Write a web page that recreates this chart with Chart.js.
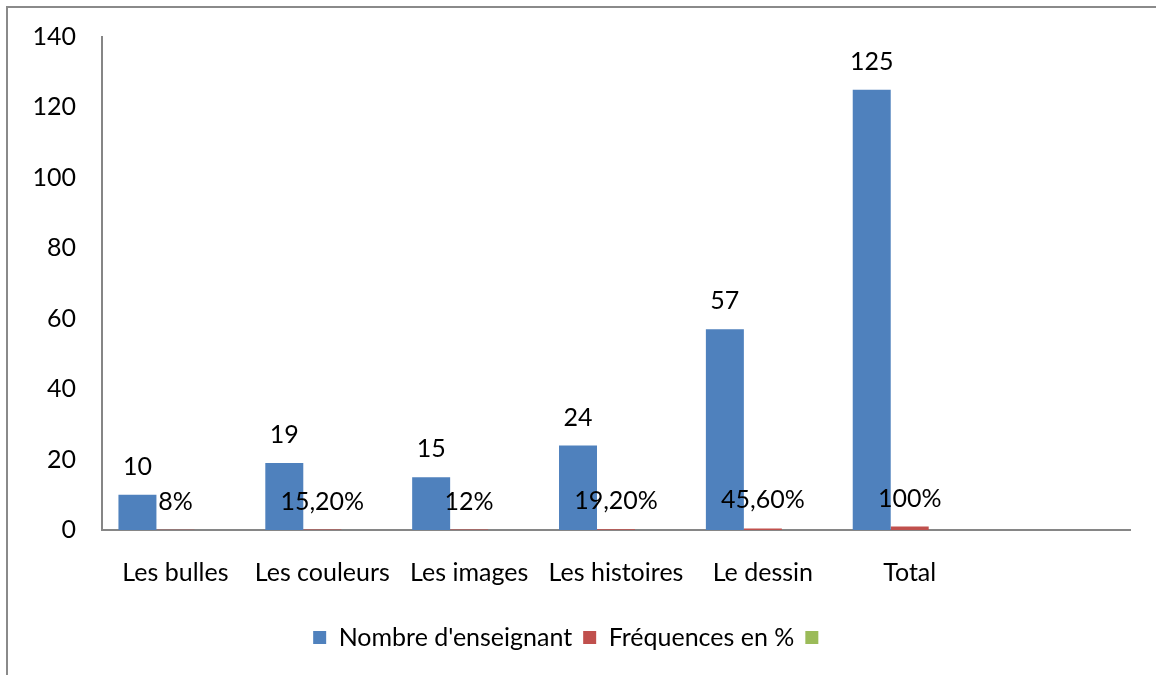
<!DOCTYPE html>
<html>
<head>
<meta charset="utf-8">
<script src="https://cdn.jsdelivr.net/npm/chart.js@4.4.1/dist/chart.umd.min.js"></script>
<style>
  html, body { margin: 0; padding: 0; background: #fff; }
  #wrap { position: relative; width: 1156px; height: 675px; }
</style>
</head>
<body>
<div id="wrap"><canvas id="c" width="1156" height="675"></canvas></div>
<script>
const categories = ['Les bulles', 'Les couleurs', 'Les images', 'Les histoires', 'Le dessin', 'Total', ''];
const nombreEnseignant = [10, 19, 15, 24, 57, 125, null];
const frequences = [0.08, 0.152, 0.12, 0.192, 0.456, 1.0, null];
const serie3 = [null, null, null, null, null, null, null];
const seriesNames = ["Nombre d'enseignant", 'Fréquences en %', ''];
const yTicks = [0, 20, 40, 60, 80, 100, 120, 140];

const FONT = "Lato, 'Open Sans', sans-serif";
const FS = 25;
const AXIS = '#868686';

function fmtPct(v) {
  const p = Math.round(v * 10000) / 100;
  if (Number.isInteger(p)) return p + '%';
  return p.toFixed(2).replace('.', ',') + '%';
}

const frame = {
  id: 'frame',
  beforeDraw(chart) {
    const ctx = chart.ctx;
    ctx.save();
    ctx.strokeStyle = '#8a8a8a';
    ctx.lineWidth = 2;
    ctx.beginPath();
    ctx.moveTo(7, 675);
    ctx.lineTo(7, 7);
    ctx.lineTo(1156, 7);
    ctx.stroke();
    ctx.restore();
  },
  afterLayout(chart) {
    // nudge the legend block to the right, as in the reference
    const lg = chart.legend;
    if (lg) { lg.left += 7; lg.right += 7; }
  }
};

const labelsPlugin = {
  id: 'valueLabels',
  afterDatasetsDraw(chart) {
    const ctx = chart.ctx;
    ctx.save();
    ctx.font = FS + 'px ' + FONT;
    ctx.fillStyle = '#000';
    ctx.textAlign = 'center';
    ctx.textBaseline = 'middle';
    [0, 1].forEach(di => {
      const meta = chart.getDatasetMeta(di);
      const data = chart.data.datasets[di].data;
      meta.data.forEach((el, i) => {
        const v = data[i];
        if (v === null || v === undefined) return;
        const txt = di === 0 ? String(v) : fmtPct(v);
        ctx.fillText(txt, el.x, el.y - 28);
      });
    });
    ctx.restore();
  }
};

new Chart(document.getElementById('c'), {
  type: 'bar',
  data: {
    labels: categories,
    datasets: [
      { label: seriesNames[0], data: nombreEnseignant, backgroundColor: '#4F81BD' },
      { label: seriesNames[1], data: frequences, backgroundColor: '#C0504D' },
      { label: seriesNames[2], data: serie3, backgroundColor: '#9BBB59' }
    ]
  },
  options: {
    responsive: false,
    animation: false,
    events: [],
    datasets: { bar: { categoryPercentage: 0.776, barPercentage: 1.0 } },
    layout: { padding: { top: 37, right: 26, bottom: 15, left: 0 } },
    scales: {
      x: {
        grid: { display: false, drawTicks: false },
        border: { display: true, color: AXIS, width: 2 },
        ticks: { color: '#000', font: { family: FONT, size: FS }, padding: 28, maxRotation: 0, autoSkip: false },
        afterFit(scale) { scale.height = 84; }
      },
      y: {
        min: 0, max: 140,
        afterBuildTicks(scale) { scale.ticks = yTicks.map(v => ({ value: v })); },
        grid: { display: false, drawTicks: false },
        border: { display: true, color: AXIS, width: 2 },
        ticks: { color: '#000', font: { family: FONT, size: FS }, padding: 26 },
        afterFit(scale) { scale.width = 102; scale.paddingTop = 0; scale.paddingBottom = 0; }
      }
    },
    plugins: {
      legend: {
        position: 'bottom',
        labels: {
          color: '#000',
          font: { family: FONT, size: FS },
          boxWidth: 13, boxHeight: 13,
          padding: 11
        }
      },
      tooltip: { enabled: false }
    }
  },
  plugins: [frame, labelsPlugin]
});
</script>
</body>
</html>
